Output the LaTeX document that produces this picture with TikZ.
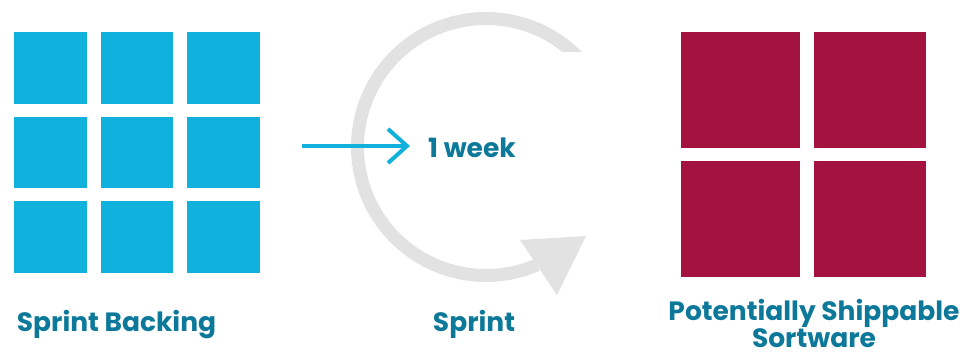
\documentclass[tikz,border=0pt]{standalone}
\usepackage{fontspec}
\setmainfont{Poppins}
\usetikzlibrary{arrows.meta}

\definecolor{backlog}{HTML}{10B1DD}
\definecolor{shippable}{HTML}{A41340}
\definecolor{loopgray}{HTML}{E2E2E2}
\definecolor{labelteal}{HTML}{0C789A}

\tikzset{
	lbl/.style={text=labelteal, inner sep=0pt, font=\fontsize{26.5}{27}\selectfont\bfseries},
	tile/.style={fill=#1, draw=none, inner sep=0pt, anchor=north west}
}

\begin{document}
\begin{tikzpicture}[x=1pt,y=1pt]
	\useasboundingbox (0,0) rectangle (972,356);
	
	% sprint backlog, 3x3
	\foreach \i in {0,1,2}
	\foreach \j in {0,1,2}
		\node[tile=backlog, minimum width=72.5pt, minimum height=71.5pt]
		(b\i\j) at ({14+86.5*\i},{324-84.5*\j}) {};
	
	% the sprint loop
	\fill[loopgray] (486,209) +(44.7:135) arc[start angle=44.7, end angle=293.4, radius=135]
		-- ++(113.4:13) arc[start angle=293.4, end angle=51.2, radius=122] -- cycle;
	\fill[loopgray] (520,116) -- (586,120) -- (557,61) -- cycle;
	
	% shippable increment, 2x2
	\node[tile=shippable, minimum width=119pt, minimum height=116pt] (s00) at (681,324) {};
	\node[tile=shippable, minimum width=112pt, minimum height=116pt] (s10) at (814,324) {};
	\node[tile=shippable, minimum width=119pt, minimum height=116pt] (s01) at (681,195) {};
	\node[tile=shippable, minimum width=112pt, minimum height=116pt] (s11) at (814,195) {};
	
	\coordinate (in) at (302,210);
	\node[lbl, anchor=base west] (week) at (428,198) {1 week};
	\draw[backlog, line width=4pt, -{Straight Barb[length=19pt, width=34pt]}, shorten >=18pt]
		(in) -- (in -| week.west);
	
	\node[lbl, anchor=base] (backing) at (116.5,24) {Sprint Backing};
	\node[lbl, anchor=base] (sprint) at (474,24) {Sprint};
	\node[lbl, anchor=south, align=center, text depth=0pt] (software) at (814,8) {Potentially Shippable\\Sortware};
\end{tikzpicture}
\end{document}
